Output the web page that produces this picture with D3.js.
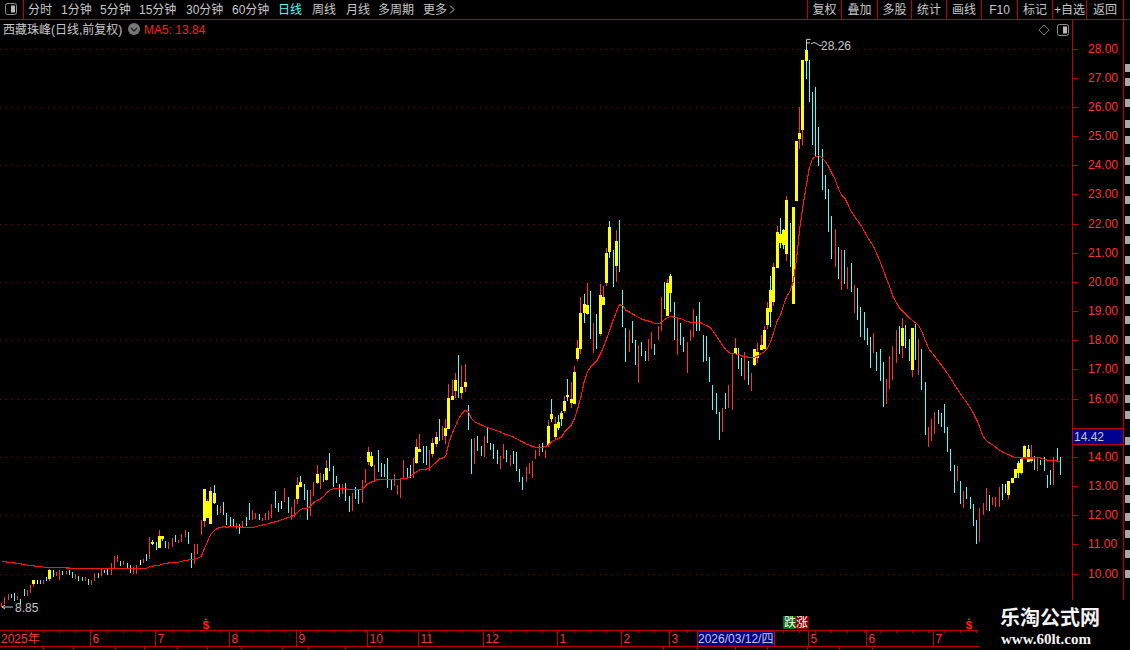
<!DOCTYPE html>
<html><head><meta charset="utf-8">
<script src="https://cdn.jsdelivr.net/npm/d3@7"></script>
<style>html,body{margin:0;padding:0;background:#000;overflow:hidden}svg{display:block}</style>
</head><body><div id="c"></div>
<script>
const kinds = ("r r r c c r c c r r y w c r c y c r r c r c c r c c r c r r c r c c r r r c r c "+
"c r r w r c r Y c y Y c r r c r r r c c r r r y y y Y c r c c c c r c r c c r r "+
"c r r r r c c w r c r r y Y c c r r y r c y c c c c r c c r c c r r y Y r c c c "+
"c c r r r r c c r y y c c r y y c r y y y y c y y c c r c c r c c c c r r c r c "+
"c c c r r r r r c r y Y y Y Y y Y y y y y Y y c r c y y y Y c y c c c r c c r c "+
"c r r c r r c y Y c r c c r r r c c c c c c c c r c r r y c c r c r y y y y y Y "+
"y y Y Y y c y y y y Y c c c c c c c c r c r c r c r c c c c c r c c c r r r r c "+
"y c c y c r c c r r r c c c c c c r c r c c c c r r r c r r r c w y y y Y y y Y "+
"y c r c c c c r c c").split(" ");

const highs = [
9.00,9.20,9.30,9.30,9.34,9.23,9.13,9.47,9.44,9.61,
9.78,9.78,9.78,9.78,9.88,10.16,10.13,10.06,10.13,10.09,
10.09,10.13,10.06,9.99,9.92,9.88,9.88,9.82,9.78,10.02,
10.02,10.16,10.13,10.19,10.37,10.60,10.64,10.43,10.43,10.37,
10.30,10.23,10.30,10.47,10.50,10.67,11.26,11.15,11.08,11.50,
11.29,11.12,11.08,11.22,11.33,11.15,11.36,11.50,11.43,10.71,
11.02,11.02,11.84,12.90,12.56,12.97,13.04,12.35,12.32,12.46,
12.08,11.94,11.87,11.74,11.70,11.81,11.94,12.42,12.18,12.08,
12.04,11.90,12.08,12.14,12.38,12.83,12.42,12.49,12.93,12.62,
12.28,12.56,13.31,13.34,13.07,12.86,12.86,13.14,13.72,13.45,
13.41,13.89,14.13,13.69,13.34,13.07,13.07,13.10,12.66,12.76,
12.97,12.86,13.21,13.58,14.34,14.17,13.72,14.24,13.79,13.76,
13.96,13.24,13.41,13.04,13.28,13.89,13.62,13.72,13.96,14.61,
14.78,14.37,14.37,14.24,14.65,14.85,15.30,15.06,15.30,16.50,
16.64,16.88,17.50,17.15,17.19,15.78,14.62,14.65,14.72,14.37,
14.72,14.99,14.48,14.44,14.24,14.03,14.44,14.24,14.07,14.20,
14.17,13.59,13.31,13.65,13.79,13.86,14.24,14.44,14.48,14.24,
15.27,15.99,15.37,15.44,15.58,16.09,16.67,16.57,17.12,18.01,
19.49,19.59,19.97,19.69,18.60,18.90,19.93,19.86,21.17,22.09,
21.10,21.78,22.13,19.73,18.42,18.36,18.66,18.01,17.84,17.94,
17.64,18.05,18.29,17.88,18.49,19.49,20.00,20.10,20.28,19.32,
18.77,18.60,18.12,17.94,18.36,19.08,18.84,19.32,18.18,18.15,
17.43,16.47,16.20,15.54,15.68,16.20,16.47,17.53,18.08,17.74,
17.39,17.60,17.29,16.88,17.70,17.91,18.18,18.49,19.31,20.21,
20.65,21.92,22.19,21.80,22.95,22.02,22.57,24.83,26.00,27.61,
28.26,27.61,26.51,26.69,25.31,24.56,23.67,23.19,22.26,21.82,
21.20,21.10,21.10,20.51,20.65,19.90,19.79,19.14,18.97,18.42,
18.11,18.25,17.60,17.70,17.26,16.67,17.46,17.81,18.35,18.49,
18.77,18.53,18.05,18.42,18.56,18.05,17.70,16.57,15.03,15.30,
15.55,15.61,15.51,15.82,15.03,14.28,13.73,13.69,13.18,12.84,
12.97,12.63,12.39,11.84,12.25,12.43,12.94,12.70,12.63,12.63,
12.97,13.08,13.08,13.18,13.28,13.59,13.87,13.93,14.42,14.42,
14.42,14.04,13.97,13.90,14.00,13.39,13.56,14.00,14.31,14.00];

const lows = [
8.85,8.96,9.10,9.17,9.06,9.10,8.96,9.23,9.23,9.34,
9.54,9.65,9.65,9.65,9.75,9.75,9.88,9.92,9.78,9.95,
9.99,9.95,9.85,9.82,9.75,9.75,9.75,9.61,9.61,9.75,
9.85,9.92,10.02,9.95,9.95,10.19,10.40,10.26,10.30,10.19,
10.02,9.99,9.99,10.30,10.37,10.43,10.50,10.98,10.81,10.88,
11.12,10.88,10.85,10.91,11.08,11.05,11.08,11.26,11.02,10.19,
10.33,10.67,11.33,11.60,11.91,11.70,12.39,12.01,12.08,12.01,
11.67,11.63,11.60,11.53,11.36,11.57,11.63,11.84,11.84,11.86,
11.84,11.80,11.84,11.84,11.89,12.25,12.11,12.21,12.45,12.08,
11.84,11.93,12.38,12.97,12.52,11.84,11.97,12.66,13.07,12.90,
13.14,13.17,13.51,12.97,13.10,12.62,12.73,12.49,12.11,12.14,
12.56,12.38,12.42,13.10,13.72,13.65,13.14,13.48,13.31,13.32,
12.93,12.86,13.00,12.69,12.59,13.28,13.28,13.28,13.28,13.76,
14.17,13.79,13.72,13.51,14.00,14.34,14.54,14.58,14.44,14.96,
15.95,16.02,16.02,15.99,16.23,14.92,13.42,13.76,14.20,14.03,
14.00,14.48,14.24,13.93,13.76,13.59,13.93,13.83,13.69,13.76,
13.52,13.14,12.87,13.14,13.42,13.28,13.93,14.03,14.17,13.96,
14.34,15.20,14.62,14.92,15.06,15.51,15.92,15.68,15.82,17.29,
17.53,18.60,18.87,18.05,17.57,17.70,18.15,19.21,19.86,20.82,
19.83,20.00,20.34,18.46,17.26,17.60,17.91,17.16,16.54,17.46,
17.29,17.29,17.70,17.50,18.01,18.32,19.08,18.84,18.97,18.01,
17.50,17.84,17.60,16.88,17.98,18.12,18.32,18.32,17.26,17.29,
16.57,15.61,15.48,14.58,14.86,15.65,15.68,15.61,17.53,17.02,
16.78,16.64,16.47,16.26,17.12,17.22,17.67,17.70,18.39,18.46,
19.17,20.48,21.17,21.13,20.72,20.51,19.25,22.78,24.56,24.70,
26.96,26.17,24.70,24.32,23.98,23.15,22.85,21.71,20.79,20.51,
20.10,19.73,19.93,19.76,19.66,18.94,18.70,18.11,18.01,17.84,
17.05,17.57,16.95,16.61,15.71,15.82,16.33,16.64,17.22,17.53,
17.39,17.74,17.29,16.74,17.33,16.81,16.30,14.75,14.34,14.55,
14.79,15.13,15.03,14.83,14.17,13.52,12.77,13.18,12.39,12.25,
12.56,12.22,11.64,11.02,11.09,12.01,12.19,12.15,12.36,12.29,
12.29,12.53,12.77,12.56,13.11,13.28,13.28,13.39,14.00,13.83,
13.80,13.56,13.52,13.73,13.52,12.94,13.04,13.04,13.83,13.39];

const yellowTop = [9.78,10.13,11.08,11.29,11.29,12.90,12.49,12.83,12.77,13.04,13.14,13.41,13.62,14.17,14.03,14.34,14.27,14.48,14.68,14.99,16.02,16.09,16.64,16.40,16.57,
15.06,15.47,15.13,15.20,15.51,15.92,16.12,15.99,16.91,17.74,18.94,19.25,19.21,19.56,19.49,20.99,21.89,21.41,19.97,20.21,17.74,
17.70,17.60,17.84,18.35,19.11,19.73,20.51,21.71,21.65,21.78,22.81,22.57,24.83,25.11,27.61,27.95,18.42,18.42,13.18,13.28,13.59,13.80,13.93,14.38,14.28,13.97];
const yellowBottom = [9.65,9.82,11.02,10.88,11.19,11.81,11.91,11.70,12.42,12.56,12.97,13.10,13.21,13.82,13.69,13.79,14.17,14.10,14.44,14.71,14.96,15.95,16.26,16.19,16.40,
14.41,15.30,14.68,14.99,15.30,15.58,16.05,15.85,15.82,17.36,17.70,18.94,18.90,18.22,19.21,19.97,21.03,20.55,18.84,19.62,17.53,
17.15,17.39,17.67,17.70,18.53,18.97,19.31,20.48,21.34,21.27,20.96,19.25,22.78,24.90,25.21,27.58,17.81,16.98,12.70,13.11,13.28,13.45,13.45,14.00,13.83,13.87];

const ma5 = [
10.41,10.40,10.39,10.38,10.36,10.35,10.33,10.31,10.29,10.27,
10.26,10.25,10.24,10.22,10.22,10.22,10.21,10.21,10.20,10.20,
10.19,10.19,10.18,10.18,10.18,10.18,10.18,10.18,10.18,10.18,
10.18,10.18,10.18,10.18,10.18,10.18,10.18,10.18,10.18,10.18,
10.18,10.18,10.18,10.18,10.18,10.18,10.24,10.25,10.28,10.28,
10.32,10.35,10.36,10.38,10.38,10.39,10.42,10.45,10.46,10.48,
10.50,10.53,10.58,10.85,11.10,11.35,11.46,11.55,11.58,11.60,
11.59,11.60,11.60,11.60,11.60,11.58,11.57,11.57,11.58,11.60,
11.64,11.66,11.68,11.72,11.74,11.77,11.80,11.84,11.88,11.92,
11.95,12.00,12.10,12.20,12.24,12.24,12.30,12.44,12.50,12.54,
12.64,12.76,12.86,12.90,12.93,12.92,12.90,12.90,12.88,12.87,
12.87,12.87,12.88,13.00,13.09,13.14,13.18,13.23,13.23,13.23,
13.23,13.23,13.23,13.23,13.24,13.25,13.27,13.32,13.42,13.49,
13.56,13.58,13.58,13.60,13.72,13.80,13.92,13.96,14.01,14.50,
14.80,15.05,15.30,15.48,15.59,15.55,15.32,15.20,15.15,15.10,
15.05,15.00,14.97,14.93,14.90,14.85,14.79,14.76,14.73,14.68,
14.62,14.56,14.50,14.44,14.40,14.36,14.33,14.33,14.33,14.35,
14.42,14.52,14.58,14.62,14.68,14.85,14.98,15.09,15.30,15.65,
16.05,16.55,16.90,17.08,17.18,17.30,17.52,17.75,18.05,18.35,
18.68,18.95,19.22,19.18,19.02,18.98,18.90,18.84,18.78,18.72,
18.68,18.66,18.62,18.58,18.56,18.60,18.70,18.78,18.81,18.79,
18.76,18.74,18.70,18.63,18.62,18.62,18.62,18.62,18.55,18.50,
18.46,18.32,18.16,18.00,17.82,17.68,17.58,17.53,17.53,17.51,
17.46,17.44,17.42,17.42,17.42,17.46,17.54,17.60,17.74,17.95,
18.30,18.65,18.85,19.20,19.50,19.68,20.00,20.75,21.80,22.58,
23.27,23.90,24.22,24.30,24.32,24.25,24.12,23.95,23.72,23.52,
23.20,22.98,22.87,22.65,22.42,22.25,22.10,21.95,21.75,21.55,
21.38,21.20,20.95,20.70,20.41,20.10,19.82,19.50,19.30,19.10,
18.99,18.88,18.78,18.68,18.60,18.50,18.28,18.00,17.73,17.58,
17.44,17.30,17.15,17.00,16.85,16.68,16.50,16.33,16.15,16.00,
15.85,15.68,15.50,15.27,15.00,14.70,14.56,14.47,14.41,14.32,
14.23,14.17,14.12,14.07,14.02,13.98,13.97,13.96,13.96,13.96,
13.96,13.96,13.97,13.96,13.92,13.88,13.87,13.87,13.86,13.84];

const priceTicks = [10,11,12,13,14,15,16,17,18,19,20,21,22,23,24,25,26,27,28];
const gridPrices = [10,12,14,16,18,20,22,24,26,28];
const monthLabels = ["6","7","8","9","10","11","12","1","2","3","5","6","7"];
const monthStarts = [28,48,71,92,114,130,150,173,193,208,251,269,290];
const navLeft = [["分时",28],["1分钟",61],["5分钟",100],["15分钟",139],["30分钟",186],["60分钟",232],["日线",278],["周线",312],["月线",346],["多周期",378],["更多",423]];
const navRight = ["复权","叠加","多股","统计","画线","F10","标记","+自选","返回"];
const navEdges = [807,841,877,911,946,981,1017,1052,1086,1123];
const lastPrice = 14.42, highLabel = 28.26, lowLabel = 8.85;

const W=1130,H=650;
const CJK='"Liberation Sans","Noto Sans CJK SC",sans-serif';
const RED='#ff3232',CYAN='#54fcfc',CHROME='#c00000',GREY='#c8c8c8';
const svg=d3.select('#c').append('svg').attr('width',W).attr('height',H).style('background','#000').style('font-family',CJK);
const x=d3.scaleLinear().domain([0,highs.length-1]).range([1.67,1060.3]);
const y=d3.scaleLinear().domain([10,28]).range([573.5,48.5]);
const px=i=>Math.floor(x(i));
const py=v=>Math.round(y(v));

// dotted grid
const grid=svg.append('g').attr('shape-rendering','crispEdges');
grid.selectAll('line').data(gridPrices).join('line')
 .attr('x1',0).attr('x2',1072).attr('y1',d=>py(d)+.5).attr('y2',d=>py(d)+.5)
 .attr('stroke','#7c0c0c').attr('stroke-dasharray','1 5');

// candles
let k=0;
const candles=kinds.map((kd,i)=>{const o={kd,i,hi:highs[i],lo:lows[i]};if(kd==='y'||kd==='Y'){o.top=yellowTop[k];o.bot=yellowBottom[k];k++;}return o;});
const colour={r:RED,c:CYAN,w:'#ffffff',y:RED,Y:CYAN};
const cg=svg.append('g').attr('shape-rendering','crispEdges');
cg.selectAll('rect.w').data(candles).join('rect').attr('class','w')
 .attr('x',d=>px(d.i)).attr('width',1)
 .attr('y',d=>py(d.hi)).attr('height',d=>Math.max(1,py(d.lo)-py(d.hi)))
 .attr('fill',d=>colour[d.kd]);
cg.selectAll('rect.b').data(candles.filter(d=>d.top!==undefined)).join('rect').attr('class','b')
 .attr('x',d=>px(d.i)-1).attr('width',3)
 .attr('y',d=>py(d.top)).attr('height',d=>Math.max(2,py(d.bot)-py(d.top)))
 .attr('fill','#ffff00');

// MA5
svg.append('path').datum(ma5)
 .attr('d',d3.line().x((d,i)=>x(i)).y(d=>y(d)))
 .attr('fill','none').attr('stroke','#ff1414').attr('stroke-width',1.1).attr('shape-rendering','crispEdges');

// high & low annotation
const hiI=highs.indexOf(highLabel), loI=lows.indexOf(lowLabel);
const ann=svg.append('g').attr('fill','none').attr('stroke',GREY);
ann.append('path').attr('d',`M${px(hiI)+.5},${y(highLabel)+6} V${y(highLabel)-1.5} h4 M${px(hiI)+1},${y(highLabel)+2} h3 M${px(hiI)+5},${y(highLabel)+3} q3,-3 6,0 t6,1`);
ann.append('path').attr('d',`M${px(loI)+1},${y(lowLabel)} H13 M${px(loI)+1},${y(lowLabel)} l3,-2 M${px(loI)+1},${y(lowLabel)} l3,2`);
svg.append('text').attr('x',821).attr('y',y(highLabel)+8.6).attr('fill',GREY).attr('font-size',12).text(highLabel.toFixed(2));
svg.append('text').attr('x',15).attr('y',y(lowLabel)+5).attr('fill',GREY).attr('font-size',12).text(lowLabel.toFixed(2));

// right axis
const ax=svg.append('g').attr('shape-rendering','crispEdges');
ax.selectAll('line').data(priceTicks).join('line').attr('x1',1072).attr('x2',1078)
 .attr('y1',d=>py(d)+.5).attr('y2',d=>py(d)+.5).attr('stroke',CHROME);
svg.append('g').selectAll('text').data(priceTicks.filter(d=>d!==15)).join('text')
 .attr('x',1088).attr('y',d=>py(d)+4).attr('fill',RED).attr('font-size',12).text(d=>d.toFixed(2));

// frame lines
const chrome=svg.append('g').attr('stroke',CHROME).attr('shape-rendering','crispEdges');
const ln=(x1,y1,x2,y2)=>chrome.append('line').attr('x1',x1).attr('y1',y1).attr('x2',x2).attr('y2',y2);
ln(0,19.5,W,19.5);
ln(1072.5,19,1072.5,600);
ln(1123.5,0,1123.5,600);
ln(23.5,0,23.5,19);
navEdges.forEach(e=>ln(e+.5,0,e+.5,19));
ln(0,630.5,978,630.5);
ln(0,646.5,1000,646.5);

// last price tag
svg.append('rect').attr('x',1072.5).attr('y',428.5).attr('width',51).attr('height',15.5).attr('fill','#000090').attr('stroke',CHROME).attr('shape-rendering','crispEdges');
svg.append('text').attr('x',1074).attr('y',440.5).attr('fill',GREY).attr('font-size',12).text(lastPrice.toFixed(2));

// time axis
const tickIdx=d3.range(3,330,5);
chrome.selectAll('line.t').data(tickIdx).join('line').attr('class','t')
 .attr('x1',d=>px(d)).attr('x2',d=>px(d)).attr('y1',631).attr('y2',633);
chrome.selectAll('line.m').data(monthStarts).join('line').attr('class','m')
 .attr('x1',d=>px(d)-.5).attr('x2',d=>px(d)-.5).attr('y1',631).attr('y2',646);
svg.append('g').selectAll('text').data(monthStarts).join('text')
 .attr('x',d=>px(d)+1.5).attr('y',643).attr('font-size',12).attr('fill',RED).text((d,i)=>monthLabels[i]);
svg.append('text').attr('x',1).attr('y',643).attr('font-size',12).attr('fill',RED).text('2025年');
svg.append('rect').attr('x',697).attr('y',631).attr('width',77).attr('height',15).attr('fill','#000090').attr('stroke',CHROME).attr('shape-rendering','crispEdges');
svg.append('text').attr('x',698).attr('y',643).attr('font-size',12).attr('fill',GREY).text('2026/03/12/四');
[43,73,115,144,177,207,241,282,308,345,663,697,735,767,807,839,872].forEach(v=>ln(v+.5,647,v+.5,650));

// markers on the time axis
[{i:64,t:'$'},{i:301,t:'$'}].forEach(m=>{
  svg.append('text').attr('x',px(m.i)-1).attr('y',628.5).attr('text-anchor','middle').attr('font-size',11.5).attr('font-weight','bold').attr('fill','#ff2020').text(m.t);
  svg.append('path').attr('d',`M${px(m.i)-2.5},620 h3 l-1.5,-2 z`).attr('fill','#ff2020');
});
svg.append('rect').attr('x',783).attr('y',616).attr('width',13).attr('height',13).attr('fill','#007000');
svg.append('rect').attr('x',796).attr('y',616).attr('width',13).attr('height',13).attr('fill','#800000');
svg.append('text').attr('x',784).attr('y',627).attr('font-size',12).attr('fill','#fff').text('跌');
svg.append('text').attr('x',796).attr('y',627).attr('font-size',12).attr('fill','#fff').text('涨');

// nav bars
svg.append('g').selectAll('text').data(navLeft).join('text')
 .attr('x',d=>d[1]).attr('y',14).attr('font-size',12).attr('fill',d=>d[0]==='日线'?CYAN:GREY).text(d=>d[0]);
svg.append('path').attr('d','M450,5.5 l4,4 l-4,4').attr('fill','none').attr('stroke',GREY);
svg.append('g').selectAll('text').data(navRight).join('text')
 .attr('x',(d,i)=>(navEdges[i]+navEdges[i+1])/2+.5).attr('y',14).attr('text-anchor','middle').attr('font-size',12).attr('fill',GREY).text(d=>d);

const icon=(cx,cy)=>{svg.append('rect').attr('x',cx-5.5).attr('y',cy-5.5).attr('width',11).attr('height',11).attr('rx',2).attr('fill','none').attr('stroke','#909090').attr('stroke-width',1);
 svg.append('rect').attr('x',cx).attr('y',cy-3.5).attr('width',4).attr('height',7).attr('fill','#b8b8b8');};
icon(11,9);icon(1063,30);

// title row
svg.append('text').attr('x',3).attr('y',34).attr('font-size',12).attr('fill',GREY).text('西藏珠峰(日线,前复权)');
svg.append('circle').attr('cx',134).attr('cy',29).attr('r',6).attr('fill','#777');
svg.append('path').attr('d','M131,28 l3,3 l3,-3').attr('fill','none').attr('stroke','#222').attr('stroke-width',1.3);
svg.append('text').attr('x',144).attr('y',33.5).attr('font-size',12).attr('fill','#ff1e1e').text('MA5: '+ma5[ma5.length-1].toFixed(2));
svg.append('path').attr('d','M1044,25 l5,5 l-5,5 l-5,-5 z').attr('fill','none').attr('stroke','#777');

// clipped side panel edge
svg.append('g').attr('shape-rendering','crispEdges').selectAll('rect').data([64,78,99,120,136,157,176,196,216,236,256,276,296,316,336,356,376,395,411,437,456,477,495,513,530,550,570])
 .join('rect').attr('x',1125).attr('y',d=>d).attr('width',5).attr('height',8).attr('fill','#a8a8a8');

// watermark
svg.append('rect').attr('x',979).attr('y',600).attr('width',151).attr('height',50).attr('fill','#000');
svg.append('text').attr('x',1000).attr('y',625).attr('font-size',20).attr('font-weight','bold').attr('fill','#f4f4f4').style('font-family','"Noto Sans CJK SC"').text('乐淘公式网');
svg.append('text').attr('x',1001).attr('y',644).attr('font-size',15).attr('font-weight','bold').attr('fill','#f4f4f4').style('font-family','"Liberation Serif"').text('www.60lt.com');
</script></body></html>
